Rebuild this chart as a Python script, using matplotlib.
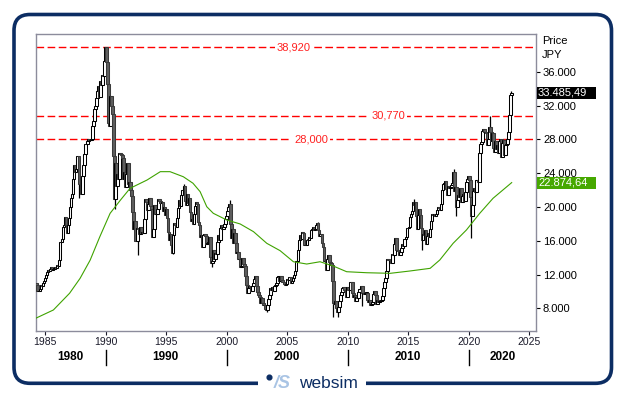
import matplotlib
matplotlib.use("Agg")
import matplotlib.pyplot as plt
import matplotlib.transforms as mtransforms
from matplotlib.patches import FancyBboxPatch, Rectangle

plt.rcParams["font.family"] = ["Liberation Sans", "DejaVu Sans"]

# monthly closes, Nikkei 225 (JPY), starting April 1984
start_year, start_month = 1984, 4
first_open = 11000
month_closes = [
    10800, 10000, 10100, 10300, 10800, 10600, 11000, 11200, 11543,  # 1984
    11990, 12320, 12580, 12430, 12700, 12880, 12500, 12700, 12700, 12900, 12800, 13113,  # 1985
    13030, 13700, 15860, 15820, 16250, 17650, 17800, 18820, 17850, 16910, 17850, 18701,  # 1986
    20030, 21000, 21570, 23270, 24900, 24180, 24490, 26030, 26010, 22765, 22690, 21564,  # 1987
    23620, 24950, 26260, 27430, 27420, 27770, 28090, 27910, 27920, 28000, 29580, 30159,  # 1988
    31580, 31980, 32840, 33710, 34270, 32950, 34950, 34430, 35640, 35550, 37270, 38916,  # 1989
    37190, 34590, 29980, 29590, 33130, 31940, 31040, 25980, 20980, 25190, 22450, 23849,  # 1990
    23290, 26410, 26290, 26110, 25790, 23290, 24120, 22340, 23920, 25220, 22690, 22984,  # 1991
    22020, 21340, 19350, 17390, 18350, 15950, 15910, 17560, 17400, 16770, 17680, 16925,  # 1992
    17020, 16950, 18590, 20920, 20550, 19590, 20380, 21030, 20100, 19700, 16410, 17417,  # 1993
    20230, 19110, 19110, 19730, 20970, 20640, 20450, 20630, 19560, 19990, 19080, 19723,  # 1994
    18650, 17050, 16140, 16810, 15440, 14520, 16680, 18120, 17910, 17650, 18740, 19868,  # 1995
    20810, 20130, 21410, 22040, 21960, 22530, 20690, 20170, 21560, 20470, 21020, 19361,  # 1996
    18330, 18560, 18003, 19150, 20070, 20605, 20331, 18229, 17888, 16459, 16636, 15259,  # 1997
    16628, 16831, 16527, 15641, 15671, 15830, 16379, 14108, 13406, 13564, 14884, 13842,  # 1998
    14499, 14368, 15837, 16702, 16112, 17530, 17862, 17437, 17605, 17942, 18558, 18934,  # 1999
    19540, 19960, 20337, 17974, 16332, 17411, 15727, 16861, 15747, 14539, 14649, 13786,  # 2000
    13844, 12883, 12999, 13934, 13262, 12969, 11861, 10713, 9775, 10366, 10697, 10543,  # 2001
    9997, 10588, 11025, 11493, 11764, 10621, 9877, 9619, 9383, 8640, 9216, 8579,  # 2002
    8340, 8363, 7973, 7831, 8425, 9083, 9563, 10344, 10219, 10560, 10101, 10677,  # 2003
    10784, 11042, 11715, 11761, 11236, 11858, 11326, 11082, 10824, 10771, 10899, 11489,  # 2004
    11388, 11741, 11669, 11009, 11277, 11584, 11900, 12414, 13574, 13607, 14872, 16111,  # 2005
    16650, 16206, 17060, 16907, 15467, 15505, 15457, 16141, 16128, 16399, 16274, 17226,  # 2006
    17383, 17604, 17288, 17400, 17876, 18138, 17249, 16569, 16786, 16737, 15681, 15308,  # 2007
    13592, 13603, 12526, 13850, 14339, 13481, 13377, 13073, 11260, 8577, 8512, 8860,  # 2008
    7994, 7568, 8110, 8828, 9523, 9958, 10357, 10493, 10133, 10035, 9345, 10546,  # 2009
    10198, 10126, 11090, 11057, 9769, 9383, 9537, 8824, 9369, 9202, 9937, 10229,  # 2010
    10238, 10624, 9755, 9850, 9694, 9816, 9833, 8955, 8700, 8988, 8435, 8455,  # 2011
    8803, 9723, 10084, 9521, 8543, 9007, 8695, 8840, 8870, 8928, 9446, 10395,  # 2012
    11139, 11559, 12398, 13861, 13775, 13677, 13668, 13389, 14456, 14328, 15662, 16291,  # 2013
    14915, 14841, 14828, 14304, 14632, 15162, 15621, 15425, 16174, 16414, 17460, 17451,  # 2014
    17674, 18798, 19207, 19520, 20563, 20236, 20585, 18890, 17388, 19083, 19747, 19034,  # 2015
    17518, 16027, 16759, 16666, 17235, 15576, 16569, 16887, 16450, 17425, 18308, 19114,  # 2016
    19041, 19119, 18909, 19197, 19651, 20033, 19925, 19646, 20356, 22012, 22725, 22765,  # 2017
    23098, 22068, 21454, 22468, 22202, 22305, 22554, 22865, 24120, 21920, 22351, 20015,  # 2018
    20773, 21385, 21206, 22259, 20601, 21276, 21522, 20704, 21756, 22927, 23294, 23657,  # 2019
    23205, 21143, 18917, 20194, 21878, 22288, 21710, 23140, 23185, 22977, 26434, 27444,  # 2020
    27663, 28966, 29179, 28813, 28860, 28792, 27284, 28090, 29453, 28893, 27822, 28792,  # 2021
    27002, 26527, 27821, 26848, 27280, 26393, 27802, 28092, 25937, 27587, 27968, 26095,  # 2022
    27327, 27446, 28041, 28856, 30888, 33189, 33485.49,  # 2023
]

# notable wick extremes (year, month)
high_months = [(1989, 12), (1996, 6), (2000, 4), (2007, 7), (2015, 6), (2018, 10), (2021, 9), (2023, 6)]
highs = [38920, 22750, 20833, 18261, 20952, 24448, 30795, 33772]
low_months = [(1987, 10), (1990, 10), (1992, 8), (1995, 7), (1998, 10), (2003, 4), (2008, 10),
              (2009, 3), (2011, 3), (2016, 2), (2018, 12), (2020, 3)]
lows = [21036, 19781, 14309, 14485, 12879, 7604, 6995, 7022, 8227, 14865, 18949, 16358]

# long moving average
ma_years = [1984.2, 1985.66, 1987.0, 1987.87, 1988.7, 1989.5, 1990.35, 1991.2, 1992.0, 1993.4,
            1994.5, 1995.3, 1996.4, 1997.2, 1997.79, 1998.34, 1998.88, 1999.99, 2001.1, 2002.2,
            2003.3, 2004.4, 2005.5, 2006.6, 2007.7, 2008.8, 2009.9, 2011.56, 2013.5, 2015.1,
            2016.8, 2017.6, 2018.7, 2019.8, 2020.9, 2022.0, 2023.54]
ma_values = [6820, 7800, 9780, 11550, 13700, 16470, 19240, 20800, 22200, 23180,
             24170, 24170, 23570, 22800, 21800, 20020, 19240, 18450, 17980, 17070,
             15690, 14820, 13510, 13240, 13510, 13000, 12330, 12210, 12140, 12410,
             12730, 13720, 15690, 17270, 19240, 21020, 22874.64]

levels = [38920, 30770, 28000]
level_colors = ["#ff0000", "#ff0000", "#ff0000"]
level_label_x = [2005.55, 2013.33, 2006.96]

y_ticks = [8000, 12000, 16000, 20000, 24000, 28000, 32000, 36000]
x_ticks = [1985, 1990, 1995, 2000, 2005, 2010, 2015, 2020, 2025]
decades = ["1980", "1990", "2000", "2010", "2020"]
decade_centres = [1987.1, 1994.9, 2004.95, 2014.95, 2022.8]
decade_splits = [1990, 2000, 2010, 2020]


def fmt_de(v, dec=0):
    s = f"{v:,.{dec}f}"
    return s.replace(",", "X").replace(".", ",").replace("X", ".")


fig = plt.figure(figsize=(6.25, 3.98), dpi=100)
fig.patch.set_facecolor("white")

# frame around everything (pixel coordinates)
bg = fig.add_axes([0, 0, 1, 1], zorder=-1)
bg.set_xlim(0, 625)
bg.set_ylim(398, 0)
bg.axis("off")
navy = "#0c2d63"
bg.add_patch(FancyBboxPatch((14, 14.5), 597.5, 368.8, boxstyle="round,pad=0,rounding_size=16",
                            fill=False, edgecolor=navy, linewidth=2.6))
bg.add_patch(Rectangle((258, 376), 108, 14, facecolor="white", edgecolor="none", zorder=3))
bg.plot([268.5], [376.5], marker="o", markersize=3.4, color=navy, zorder=4)
bg.text(282, 383, "/S", fontsize=13, fontweight="bold", fontstyle="italic", color="#a9c4e4",
        ha="center", va="center", zorder=4)
bg.text(328, 383, "websim", fontsize=12.5, color=navy, ha="center", va="center", zorder=4)

ax = fig.add_axes([35.7 / 625, 67 / 398, 500.3 / 625, 296.7 / 398])
ax.set_facecolor("white")

n = len(month_closes)
xs = [start_year + (start_month - 1 + i + 0.5) / 12 for i in range(n)]
opens = [first_open] + month_closes[:-1]

body_lo = [min(o, c) for o, c in zip(opens, month_closes)]
body_h = [max(abs(c - o), 60) for o, c in zip(opens, month_closes)]
face = ["white" if c >= o else "#5e5e5e" for o, c in zip(opens, month_closes)]
edge = ["black" if c >= o else "#3a3a3a" for o, c in zip(opens, month_closes)]

wick_hi = [max(o, c) for o, c in zip(opens, month_closes)]
wick_lo = [min(o, c) for o, c in zip(opens, month_closes)]
for (yy, mm), h in zip(high_months, highs):
    i = (yy - start_year) * 12 + mm - start_month
    wick_hi[i] = h
for (yy, mm), l in zip(low_months, lows):
    i = (yy - start_year) * 12 + mm - start_month
    wick_lo[i] = l
ax.vlines(xs, wick_lo, wick_hi, color="black", linewidth=0.9, zorder=2)
ax.bar(xs, body_h, bottom=body_lo, width=0.22, color=face, edgecolor=edge, linewidth=0.75, zorder=3)

ax.plot(ma_years, ma_values, color="#3fa300", linewidth=0.8, zorder=4)

for lv, col, lx in zip(levels, level_colors, level_label_x):
    ax.axhline(lv, color=col, linewidth=1.0, dashes=(5.5, 2.5), zorder=1)
    ax.text(lx, lv, fmt_de(lv / 1000, 3), color="#ff2020", fontsize=8, ha="center", va="center",
            zorder=5, bbox=dict(facecolor="white", edgecolor="none", pad=1.5))

ax.set_xlim(1984.2, 2025.55)
ax.set_ylim(5314, 40426)

for sp in ax.spines.values():
    sp.set_color("#8c8c9c")
    sp.set_linewidth(1.0)

ax.yaxis.tick_right()
ax.set_yticks(y_ticks)
ax.set_yticklabels([fmt_de(v) for v in y_ticks])
ax.tick_params(axis="y", length=3, width=0.8, pad=2, labelsize=8, colors="black")
ax.set_xticks(x_ticks)
ax.set_xticklabels([str(v) for v in x_ticks])
ax.tick_params(axis="x", length=3, width=0.8, pad=1.5, labelsize=7.5, colors="#1a1a2a")

ax.text(1.012, 0.979, "Price", transform=ax.transAxes, fontsize=8, va="center", ha="left")
ax.text(1.012, 0.93, "JPY", transform=ax.transAxes, fontsize=8, va="center", ha="left")

# value boxes on the right axis
tr = mtransforms.blended_transform_factory(ax.transAxes, ax.transData)
box_h = 12 / 0.00845
for val, col, label in [(month_closes[-1], "black", fmt_de(month_closes[-1], 2)),
                        (ma_values[-1], "#46a800", fmt_de(ma_values[-1], 2))]:
    ax.add_patch(Rectangle((1.001, val - box_h / 2), 59 / 500.3, box_h, transform=tr,
                           facecolor=col, edgecolor="none", clip_on=False, zorder=6))
    ax.text(1.004, val, label, transform=tr, color="white", fontsize=8, va="center", ha="left",
            zorder=7, clip_on=False)

# decade row under the year ticks
trx = mtransforms.blended_transform_factory(ax.transData, ax.transAxes)
for lab, cx in zip(decades, decade_centres):
    ax.text(cx, -0.087, lab, transform=trx, fontsize=8.5, fontweight="bold", ha="center", va="center")
for sx in decade_splits:
    ax.plot([sx, sx], [-0.064, -0.115], transform=trx, color="black", linewidth=1.0, clip_on=False)

fig.savefig("out.png", dpi=100, facecolor="white")
